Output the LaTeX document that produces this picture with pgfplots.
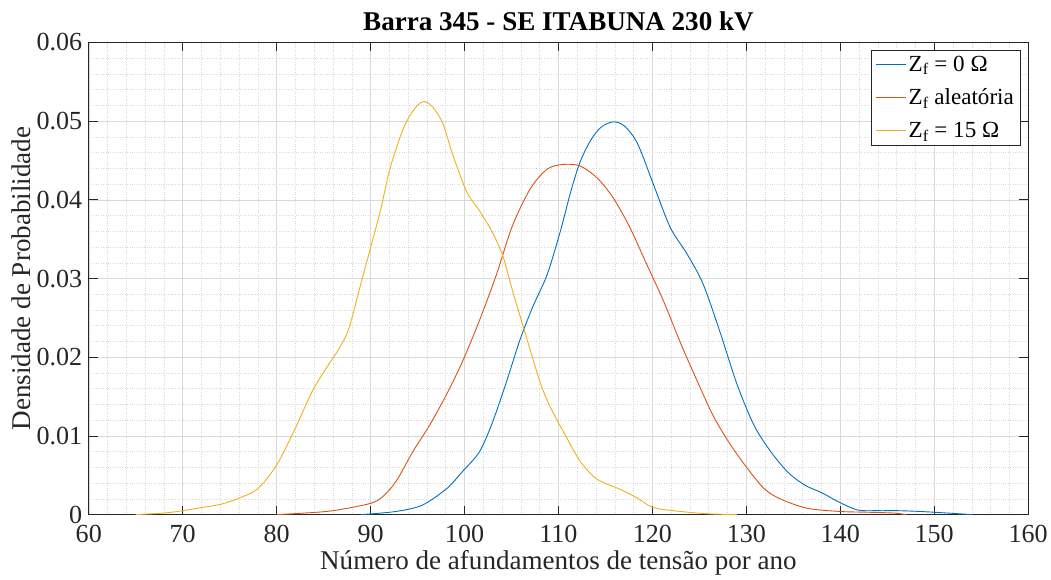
\documentclass[border=0pt]{standalone}
\usepackage{fontspec}
\setmainfont{Liberation Serif}
\usepackage{pgfplots}
\pgfplotsset{compat=1.18}

\definecolor{mblue}{rgb}{0,0.447,0.741}
\definecolor{mred}{rgb}{0.85,0.325,0.098}
\definecolor{myellow}{rgb}{0.929,0.694,0.125}
\definecolor{axgray}{rgb}{0.15,0.15,0.15}

\begin{document}
\begin{tikzpicture}
\begin{axis}[
    scale only axis,
    width=937pt, height=471pt,
    xmin=60, xmax=160, ymin=0, ymax=0.06,
    xtick={60,70,...,160},
    ytick={0,0.01,...,0.06},
    minor x tick num=4, minor y tick num=4,
    grid=both,
    major grid style={gray!30, line width=0.5pt},
    minor grid style={gray!30, dotted, line width=0.5pt},
    tick align=inside,
    major tick length=9pt,
    minor tick length=0pt,
    every tick/.style={axgray, line width=0.8pt},
    axis line style={axgray, line width=0.8pt},
    scaled y ticks=false,
    yticklabel style={/pgf/number format/fixed, /pgf/number format/precision=2, xshift=-3pt},
    xticklabel style={yshift=-7pt},
    /pgf/number format/assume math mode=true,
    tick label style={font=\fontsize{26}{30}\selectfont, text=axgray},
    label style={font=\fontsize{27}{32}\selectfont, text=axgray},
    title style={font=\fontsize{27}{32}\selectfont\bfseries, yshift=-7pt, inner ysep=12pt},
    title={Barra 345 - SE ITABUNA 230 kV},
    xlabel={Número de afundamentos de tensão por ano},
    ylabel={Densidade de Probabilidade},
    xlabel style={yshift=0pt, inner ysep=4pt},
    ylabel style={inner ysep=12pt, yshift=-10pt},
    legend style={at={(0.9915,0.985)}, anchor=north east,
        font=\fontsize{23}{27}\selectfont, draw=axgray, line width=0.6pt,
        inner sep=4pt, row sep=12pt},
    legend cell align=left,
    legend image code/.code={\draw[#1, line width=1pt] (0pt,0pt) -- (30pt,0pt);},
    every axis plot/.append style={line width=0.9pt, smooth, tension=0.5},
]
\addplot[draw=mblue] coordinates {
(89,0) (92.7,0.0004) (95.5,0.0012) (98.1,0.0033) (99.8,0.0055) (101.6,0.0080)
(103,0.0118) (104.5,0.0170) (105.9,0.0222) (107.3,0.0265) (108.8,0.0305)
(110.2,0.0360) (111.3,0.0410) (112.3,0.0448) (113.4,0.0475) (114.5,0.0492)
(115.8,0.0499) (117,0.0494) (118.4,0.0472) (120.1,0.0420) (121.9,0.0365)
(123.7,0.0331) (125.4,0.0293) (127.2,0.0232) (129,0.0166) (130.8,0.0114)
(132.6,0.0080) (134.5,0.0053) (136.3,0.0037) (138,0.0028) (139.7,0.0017)
(141.8,0.0006) (144,0.0005) (146.1,0.0005) (148.5,0.0004) (151.4,0.0002) (154,0)
};
\addplot[draw=mred] coordinates {
(80,0) (83,0.0002) (86,0.0005) (89.9,0.0014) (91.3,0.0023) (92.7,0.0042)
(94.5,0.0080) (96.3,0.0114) (98.1,0.0153) (99.8,0.0195) (101.6,0.0247)
(103.4,0.0305) (105.1,0.0367) (107,0.0414) (108.8,0.0439) (110.5,0.0445)
(112.3,0.0443) (114.1,0.0428) (115.8,0.0403) (117.6,0.0365) (119.4,0.0318)
(121.2,0.0271) (123,0.0218) (124.8,0.0169) (126.5,0.0125) (128.3,0.0089)
(130.1,0.0059) (131.9,0.0033) (133.6,0.0020) (136.5,0.0008) (140,0.0004)
(143,0.0003) (145.7,0.0002) (147,0)
};
\addplot[draw=myellow] coordinates {
(65,0) (68,0.0002) (70,0.0005) (72,0.0009) (74,0.0013) (76,0.0021) (78,0.0033)
(80,0.0063) (82,0.0110) (83.8,0.0157) (85.5,0.0190) (86.7,0.0212) (87.7,0.0237)
(89,0.0295) (91,0.0384) (92,0.0437) (93.4,0.0488) (94.5,0.0513) (95.6,0.0525)
(96.6,0.0518) (97.7,0.0497) (98.7,0.0459) (100.2,0.0411) (101.6,0.0386)
(103,0.0358) (104.1,0.0328) (105.1,0.0285) (106.6,0.0225) (108,0.0170)
(109,0.0140) (110.5,0.0106) (112.3,0.0068) (114.1,0.0045) (116.6,0.0032)
(118.4,0.0021) (120.1,0.0009) (123,0.0004) (126,0.0001) (129,0)
};
\legend{Z\textsubscript{f} = 0 Ω, Z\textsubscript{f} aleatória, Z\textsubscript{f} = 15 Ω}
\end{axis}
\end{tikzpicture}
\end{document}
